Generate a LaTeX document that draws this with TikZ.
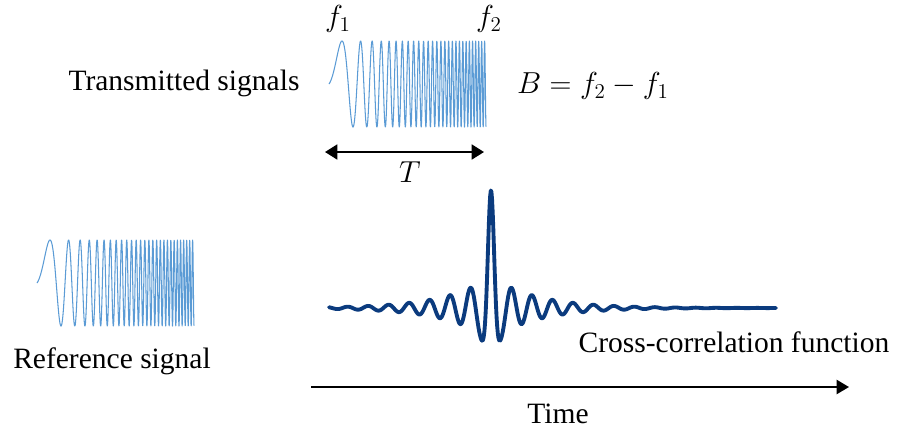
\documentclass[tikz,border=0pt]{standalone}
\usepackage{fontspec}
\setmainfont{Liberation Serif}
\usetikzlibrary{arrows.meta,positioning}
\definecolor{chirp}{HTML}{5B9BD5}
\definecolor{xcorr}{HTML}{0B3B7E}

\begin{document}
\begin{tikzpicture}[
  x=0.02cm, y=-0.02cm,
  lbl/.style={font=\fontsize{16.8}{20}\selectfont, inner sep=0pt},
  sig/.style={chirp, line width=0.6pt, line join=round},
  corr/.style={xcorr, line width=2.2pt, line cap=round, line join=round},
  arr/.style={-{Triangle[length=7pt, width=8pt]}, line width=1.1pt},
  dbl/.style={{Triangle[length=7pt, width=8.5pt]}-{Triangle[length=7pt, width=8.5pt]}, line width=1.1pt}
]
  \useasboundingbox (0,0) rectangle (897,441);

  % chirps: transmitted and reference
  \foreach \sx/\sy in {329/84, 37/283}
    \draw[sig] plot[domain=0:157, samples=900]
      ({\sx+\x}, {\sy-43*sin(360*(0.00502*\x+0.1093*(\x/10)^2))});

  \node[lbl] (tx)  at (184,83)  {Transmitted signals};
  \node[lbl] (ref) at (112,361) {Reference signal};
  \node[lbl] (f1)  at (338,19)  {$f_1$};
  \node[lbl] (f2)  at (489,19)  {$f_2$};
  \node[lbl] (bw)  at (593,86)  {$B = f_2 - f_1$};

  \coordinate (tl) at (325,152);
  \coordinate (tr) at (484,152);
  \draw[dbl] (tl) -- (tr);
  \node[lbl] (T) at (410,172) {$T$};

  % cross-correlation
  \draw[corr] plot[domain=329:776, samples=700]
    (\x, {308-(86*exp(-min(((\x-491)/6)^2,20))+32*exp(-abs(\x-491)/45))*cos(360/20.5*(\x-491))});
  \node[lbl] (xc) at (734,342) {Cross-correlation function};

  % time axis
  \coordinate (t0) at (311,387);
  \coordinate (t1) at (849,387);
  \draw[arr] (t0) -- (t1);
  \node[lbl] (time) at (558,414) {Time};
\end{tikzpicture}
\end{document}
